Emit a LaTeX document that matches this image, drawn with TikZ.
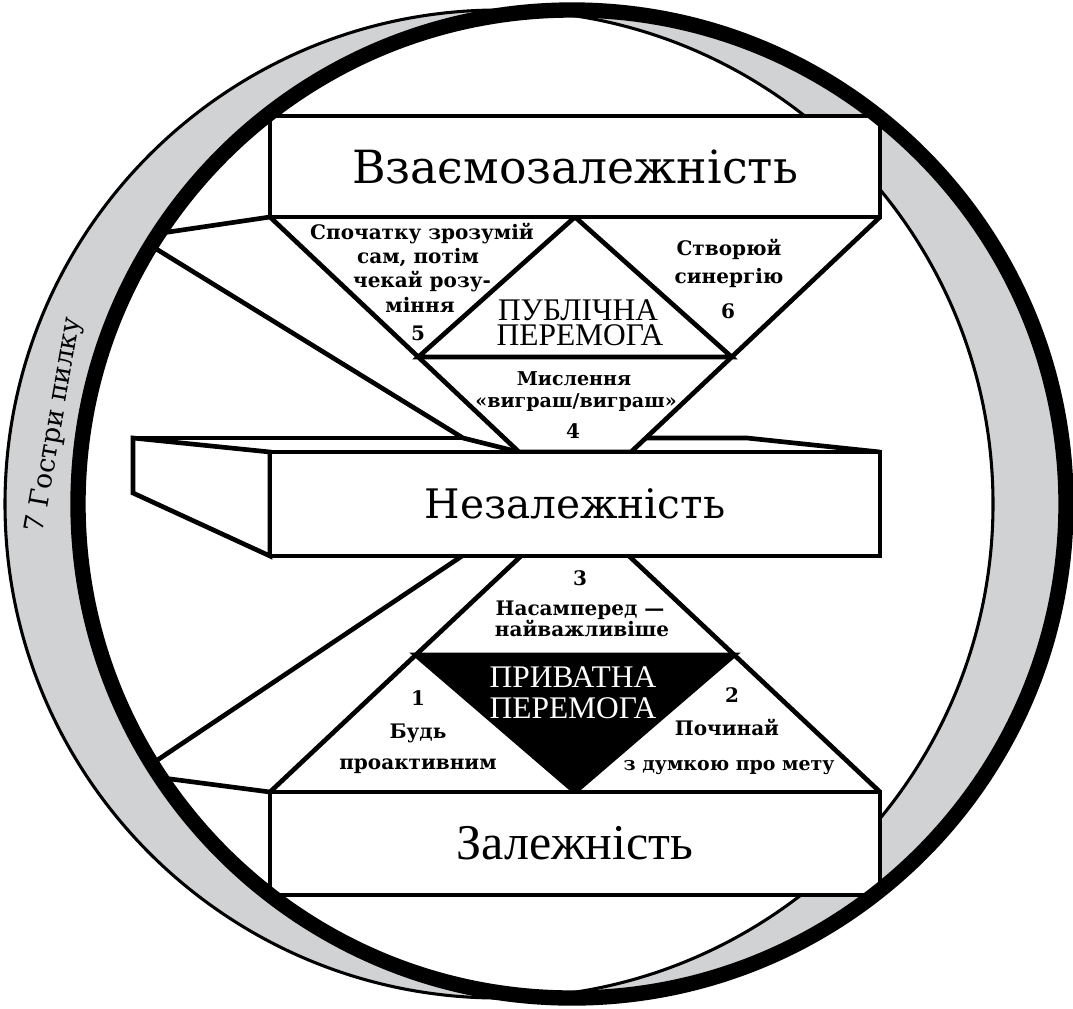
\documentclass[tikz,border=0pt]{standalone}
\usepackage{fontspec}
\setmainfont{DejaVu Serif}
\newfontfamily\timesf{Liberation Serif}
\definecolor{ringgrey}{RGB}{209,210,212}
\begin{document}
\begin{tikzpicture}[x=0.75pt,y=-0.75pt,line join=miter]
\tikzset{
  ln/.style={line width=3.5pt},
  boxst/.style={draw,fill=white,line width=3.5pt,rectangle,inner sep=0pt,minimum width=457.5pt},
  lbl/.style={font=\bfseries\fontsize{15}{18}\selectfont,anchor=base,inner sep=0pt},
  win/.style={font=\timesf\fontsize{23.6}{26}\selectfont,anchor=base,inner sep=0pt},
}
\useasboundingbox (0,0) rectangle (1073,1008);
% ring
\coordinate (cA) at (499,504);
\coordinate (cB) at (572,504);
\fill[ringgrey] (cA) circle[radius=370.5pt];
\fill[ringgrey] (cB) circle[radius=370.5pt];
\begin{scope}
  \clip (cA) circle[radius=370.5pt];
  \fill[white] (cB) circle[radius=370.5pt];
\end{scope}
\draw[line width=2.3pt] (cA) circle[radius=370.5pt];
% key points
\coordinate (T1) at (270,217);
\coordinate (T2) at (880,217);
\coordinate (T3) at (631,452);
\coordinate (T4) at (519,452);
\coordinate (P1) at (575,217);
\coordinate (P2) at (418.3,357);
\coordinate (P3) at (731.7,357);
\coordinate (B1) at (521,556);
\coordinate (B2) at (629,556);
\coordinate (B3) at (880,792);
\coordinate (B4) at (270,792);
\coordinate (K1) at (415.7,655);
\coordinate (K2) at (734.3,655);
\coordinate (K3) at (575,792);
% upper wedge
\draw[ln] (T1) -- (T4) -- (T3) -- (T2);
\draw[ln] (P2) -- (P1) -- (P3) -- cycle;
% lower wedge
\draw[ln] (B4) -- (B1);
\draw[ln] (B2) -- (B3);
\fill[black] (K1) -- (K2) -- (K3) -- cycle;
\draw[ln] (K1) -- (K2) -- (K3) -- cycle;
% shelf lines
\coordinate (S1) at (155,234);
\coordinate (S2) at (150,245.1);
\coordinate (S3) at (463,438);
\coordinate (E1) at (133,438);
\coordinate (E2) at (270,452);
\coordinate (E3) at (270,556);
\coordinate (E4) at (133,493);
\coordinate (R1) at (646,438);
\coordinate (R2) at (747,438);
\coordinate (R3) at (880,452);
\coordinate (S4) at (462,556);
\coordinate (S5) at (150,765);
\coordinate (S6) at (160,777.6);
\draw[ln] (S1) -- (T1);
\draw[ln] (S2) -- (S3) -- (T4);
\draw[ln] (E1) -- (S3);
\draw[ln] (R1) -- (R2) -- (R3);
\draw[ln,fill=white] (E1) -- (E2) -- (E3) -- (E4) -- cycle;
\draw[ln] (S4) -- (S5);
\draw[ln] (S6) -- (B4);
% boxes
\node[boxst,minimum height=75.75pt,font=\fontsize{34.3}{40}\selectfont] (inter) at (575,166.5) {Взаємозалежність};
\node[boxst,minimum height=78pt,font=\fontsize{30.5}{36}\selectfont] (indep) at (575,504) {Незалежність};
\node[boxst,minimum height=77.25pt,font=\timesf\fontsize{37.5}{42}\selectfont] (dep) at (575,843.5) {Залежність};
% labels 5
\node[lbl] (l5a) at (422,239) {Спочатку зрозумій};
\node[lbl] (l5b) at (418,263) {сам, потім};
\node[lbl] (l5c) at (422,287) {чекай розу-};
\node[lbl] (l5d) at (420,312) {міння};
\node[lbl] (l5e) at (418,340) {5};
% labels 6
\node[lbl] (l6a) at (729,255) {Створюй};
\node[lbl] (l6b) at (729,283) {синергію};
\node[lbl] (l6c) at (728,318) {6};
% public victory
\node[win] (pubA) at (578,320) {ПУБЛІЧНА};
\node[win] (pubB) at (580,345) {ПЕРЕМОГА};
% labels 4
\node[lbl,font=\bfseries\fontsize{14.3}{18}\selectfont] (l4a) at (574,385) {Мислення};
\node[lbl,font=\bfseries\fontsize{14.3}{18}\selectfont] (l4b) at (576,407) {«виграш/виграш»};
\node[lbl] (l4c) at (573,438) {4};
% labels 3
\node[lbl] (l3a) at (580,585) {3};
\node[lbl] (l3b) at (580,615) {Насамперед —};
\node[lbl] (l3c) at (582,636) {найважливіше};
% private victory
\node[win,text=white] (priA) at (573,687) {ПРИВАТНА};
\node[win,text=white] (priB) at (573,718) {ПЕРЕМОГА};
% labels 1
\node[lbl] (l1a) at (418,705) {1};
\node[lbl] (l1b) at (418,738) {Будь};
\node[lbl] (l1c) at (418,769) {проактивним};
% labels 2
\node[lbl] (l2a) at (732,702) {2};
\node[lbl] (l2b) at (727,735) {Починай};
\node[lbl,font=\bfseries\fontsize{14.2}{18}\selectfont] (l2c) at (729,770) {з думкою про мету};
% ring label
\node[font=\fontsize{20}{22}\selectfont,rotate=80,inner sep=0pt] (saw) at (55,425) {7 Гостри пилку};
% outer thick circle
\draw[line width=11.5pt] (cB) circle[radius=370.5pt];
\end{tikzpicture}
\end{document}
